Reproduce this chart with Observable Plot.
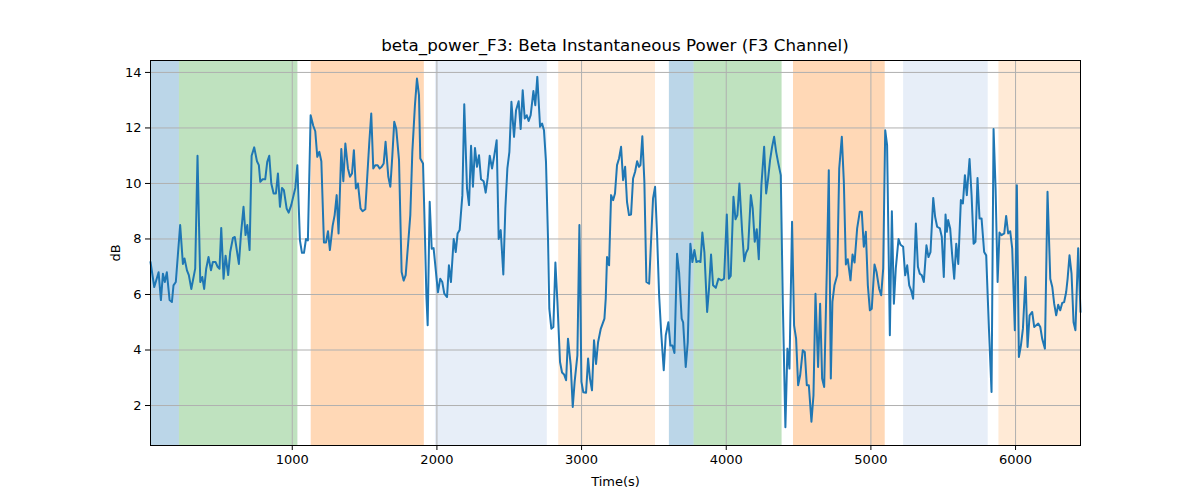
<!DOCTYPE html>
<html>
<head>
<meta charset="utf-8">
<script src="https://cdn.jsdelivr.net/npm/d3@7"></script>
<script src="https://cdn.jsdelivr.net/npm/@observablehq/plot@0.6"></script>
<style>
  body { margin: 0; background: #fff; }
  #wrap { position: relative; width: 1200px; height: 500px; font-family: "DejaVu Sans", sans-serif; }
  #title { position: absolute; left: 150px; width: 930px; top: 35px; text-align: center; font-size: 16.7px; color: #000; }
</style>
</head>
<body>
<div id="wrap">
  <div id="title">beta_power_F3: Beta Instantaneous Power (F3 Channel)</div>
</div>
<script>
const title = "beta_power_F3: Beta Instantaneous Power (F3 Channel)";
const xLabel = "Time(s)";
const yLabel = "dB";
const xTicks = [1000, 2000, 3000, 4000, 5000, 6000];
const yTicks = [2, 4, 6, 8, 10, 12, 14];

// Time (s)
const times = [
20,46,76,92,106,119,133,152,168,179,195,225,244,255,272,285,302,329,345,364,378,391,405,421,438,451,470,484,497,509,525,539,557,571,590,603,631,645,663,677,689,705,719,737,756,769,
779,795,813,827,841,855,871,887,901,915,929,942,961,975,993,1021,1035,1053,1067,1081,1095,1108,1127,1145,1159,1173,1187,1201,1219,1233,1247,1260,1279,1293,1307,1320,1339,1353,1367,1385,1399,1413,1426,1440,1454,1472,1486,1505,1532,1546,1560,1574,
1590,1604,1618,1632,1645,1664,1678,1692,1705,1719,1738,1756,1770,1784,1802,1816,1830,1848,1862,1876,1885,1904,1917,1927,1936,1950,1964,1977,1991,2007,2023,2037,2051,2070,2083,2097,2116,2130,2143,2157,2176,2189,2208,2222,2236,2249,2263,2277,2291,2305,2323,2337,2351,2365,
2381,2395,2413,2427,2441,2459,2473,2487,2501,2515,2533,2547,2565,2579,2593,2607,2621,2634,2648,2667,2680,2694,2713,2727,2740,2754,2768,2777,2791,2805,2819,2833,2851,2865,2879,2893,2906,2925,2939,2952,2971,2985,2999,3012,3031,3045,3058,3072,3086,3100,3114,3132,
3158,3167,3176,3190,3204,3218,3231,3245,3259,3273,3287,3301,3314,3328,3342,3356,3370,3384,3397,3407,3420,3434,3448,3467,3480,3494,3508,3522,3536,3550,3568,3582,3600,3614,3628,3642,3660,3674,3692,3702,3720,3734,3752,3766,3780,3794,3808,3822,3835,3849,3868,3881,3895,3909,3928,3946,
3967,3985,4004,4018,4031,4050,4064,4077,4091,4110,4124,4137,4151,4170,4183,4197,4211,4225,4243,4262,4276,4289,4303,4317,4331,4345,4359,4377,4391,4409,4423,4437,4455,4469,4483,4497,4511,4529,4543,4557,4571,4589,4603,4617,4635,4649,4663,4677,4695,4709,4723,
4734,4748,4767,4781,4799,4813,4827,4840,4859,4873,4887,4905,4923,4937,4951,4965,4979,4993,5006,5025,5039,5057,5071,5085,5099,5112,5131,5145,5159,5172,5191,5205,5223,5237,5251,5265,5278,5292,5311,5325,5338,5352,5366,5384,5398,5412,5431,5444,5458,5477,5490,5504,
5516,5525,5534,5548,5562,5576,5590,5604,5622,5636,5650,5663,5682,5696,5710,5723,5737,5751,5765,5783,5797,5816,5834,5848,5862,5876,5889,5903,5922,5935,5949,5963,5977,5995,6009,6023,6037,6051,6069,6083,6097,6115,6129,6143,6157,6171,6184,6203,6221,6240,6254,6267,6281,6295,6309,6323,6336,6350,6360,6373,6387,6401,6414,6433,6449
];

// Beta power (dB)
const power = [
7.17,6.27,6.8,5.8,6.75,6.45,6.8,5.8,5.73,6.33,6.45,8.5,7.1,7.3,6.87,6.7,6.2,6.93,11.0,6.45,6.63,6.2,6.93,7.35,6.87,7.17,7.17,7.0,6.93,8.4,6.57,7.4,6.7,7.53,8.04,8.07,7.1,8.14,9.16,8.14,8.5,7.6,11.0,11.3,10.8,10.66,
10.06,10.15,10.15,10.78,11.0,10.0,9.64,9.64,10.36,9.16,9.84,9.76,9.1,8.95,9.22,9.84,10.66,7.95,7.5,7.5,8.0,7.95,12.46,12.08,11.88,10.96,11.14,10.8,7.87,7.87,8.28,7.6,8.47,8.86,9.58,8.2,11.24,10.08,11.44,10.54,10.24,10.36,11.2,9.82,10.0,9.1,9.0,9.07,11.44,12.52,10.54,10.66,
10.66,10.54,10.6,10.72,11.5,10.24,9.88,11.02,12.22,11.96,10.84,6.81,6.5,6.7,7.9,8.86,11.14,12.82,13.78,13.18,10.9,10.72,8.16,5.97,4.89,9.34,7.65,7.67,6.93,6.08,6.57,6.45,6.03,5.91,7.05,6.45,8.0,7.53,8.2,8.32,9.58,12.85,9.82,9.22,11.36,9.88,11.28,10.6,11.02,10.15,10.08,9.67,10.2,11.0,
10.54,10.96,11.56,8.0,8.32,6.72,9.1,10.54,11.14,12.94,11.68,12.64,12.96,11.96,13.36,12.34,12.46,12.25,12.46,13.33,12.82,13.84,12.04,12.16,11.92,10.78,8.0,5.49,4.77,4.83,7.15,5.73,3.57,3.19,3.12,2.91,4.41,3.45,1.95,2.85,3.81,8.5,2.85,2.48,2.46,3.69,2.97,2.55,4.35,3.5,4.28,4.75,
5.13,5.85,7.35,7.05,9.58,9.4,9.64,10.66,10.9,11.32,10.12,10.6,9.34,8.86,8.88,10.18,10.42,10.8,10.6,10.66,11.7,10.08,6.45,6.39,7.9,9.46,9.88,8.14,5.97,4.65,3.27,4.53,5.0,4.16,4.16,3.89,7.47,6.81,5.13,5.0,3.39,4.28,7.83,7.17,7.6,7.17,7.2,7.17,8.23,7.53,5.37,6.21,7.44,6.33,6.24,6.57,
6.51,6.57,8.88,6.57,6.67,9.52,8.71,8.86,10.0,8.26,7.2,7.5,7.65,9.58,9.1,7.9,8.35,7.27,9.94,11.32,9.64,10.15,10.84,11.32,11.68,11.14,10.75,10.3,5.73,1.22,4.05,3.33,8.62,4.89,4.41,2.73,3.09,3.99,3.93,2.73,2.73,1.42,2.36,6.03,3.39,5.67,2.97,2.67,6.81,10.48,2.97,
5.73,6.33,6.69,10.54,11.68,10.06,7.08,7.27,6.51,7.44,7.15,8.38,8.98,8.98,7.72,8.26,6.33,5.43,5.49,7.08,6.81,6.21,5.97,6.93,11.92,11.38,4.53,9.0,5.67,6.93,8.0,7.79,7.72,6.69,7.05,6.33,6.15,5.85,8.56,7.0,6.75,6.69,6.45,7.77,7.35,7.53,9.48,8.8,8.44,8.38,8.08,6.63,
8.88,8.26,8.68,8.38,7.41,6.57,7.83,7.1,9.4,9.28,10.3,9.58,10.88,9.58,7.83,7.9,10.2,8.74,8.74,7.53,7.41,4.77,2.49,11.96,9.82,6.45,8.23,8.14,8.2,8.83,8.2,8.28,7.65,4.71,9.94,3.75,4.16,4.77,6.63,4.11,5.25,5.37,4.83,4.89,4.95,4.83,4.41,4.05,9.7,6.57,6.27,5.67,5.25,5.63,5.43,5.7,5.73,6.09,6.57,7.41,6.75,5.0,4.71,7.67,5.37
];

// Shaded periods
const spanStart = [20, 220, 1131, 1990, 2842, 3607, 3778, 4465, 5226, 5885];
const spanEnd   = [220, 1039, 1913, 2763, 3511, 3778, 4386, 5099, 5811, 6449];
const spanColor = ["#1f77b4", "#2ca02c", "#ff7f0e", "#aec7e8", "#ffbb78", "#1f77b4", "#2ca02c", "#ff7f0e", "#aec7e8", "#ffbb78"];

const series = times.map((t, i) => ({t, v: power[i]}));
const spans = spanStart.map((s, i) => ({x1: s, x2: spanEnd[i], c: spanColor[i]}));

const chart = Plot.plot({
  width: 1200,
  height: 500,
  marginLeft: 150,
  marginRight: 120,
  marginTop: 60,
  marginBottom: 55,
  style: {fontFamily: "DejaVu Sans, sans-serif", fontSize: "13px", color: "#000", background: "#fff"},
  x: {domain: [20, 6449]},
  y: {domain: [0.56, 14.43]},
  marks: [
    Plot.rect(spans, {x1: "x1", x2: "x2", fill: "c", fillOpacity: 0.3}),
    Plot.gridX(xTicks, {stroke: "#b0b0b0", strokeOpacity: 1, strokeWidth: 1}),
    Plot.gridY(yTicks, {stroke: "#b0b0b0", strokeOpacity: 1, strokeWidth: 1}),
    Plot.line(series, {x: "t", y: "v", stroke: "#1f77b4", strokeWidth: 2}),
    Plot.frame({stroke: "#000", strokeWidth: 1}),
    Plot.axisX({ticks: xTicks, tickSize: 5, tickPadding: 4, tickFormat: d => String(d), label: xLabel, labelAnchor: "center", labelArrow: "none", labelOffset: 40, fontSize: 13}),
    Plot.axisY({ticks: yTicks, tickSize: 5, tickPadding: 4, tickFormat: d => String(d), label: yLabel, labelAnchor: "center", labelArrow: "none", labelOffset: 40, fontSize: 13})
  ]
});
document.getElementById("wrap").appendChild(chart);
</script>
</body>
</html>
